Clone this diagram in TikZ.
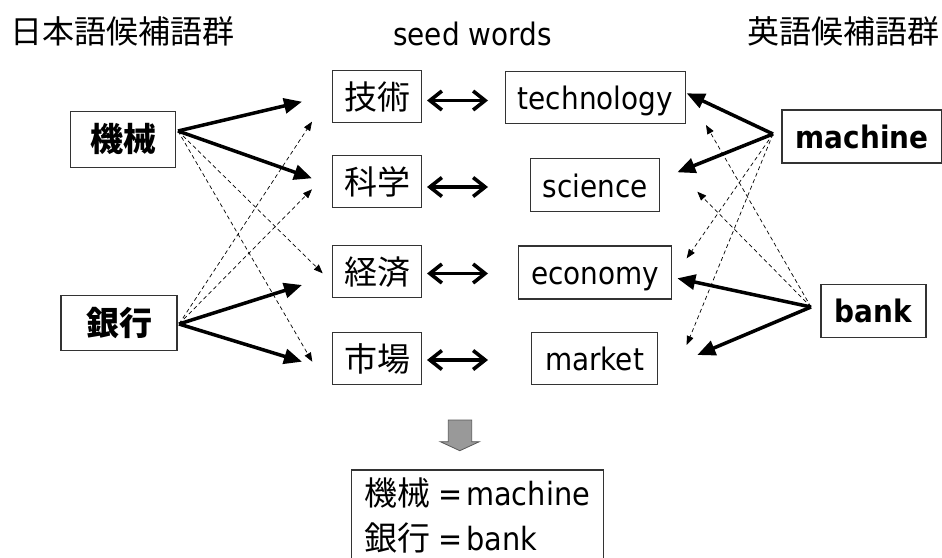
\documentclass[tikz,border=0pt]{standalone}
\usepackage{fontspec}
\setmainfont{DejaVu Sans Condensed}
\newfontfamily\jp{Noto Sans CJK JP}
\usetikzlibrary{arrows.meta}
\newcommand\enfont{\fontsize{31}{36}\selectfont}
\newcommand\jpfont{\jp\fontsize{33}{38}\selectfont}
\newcommand\resfont{\fontsize{33}{38}\selectfont}
\newcommand\resenfont{\fontsize{32}{38}\selectfont}
\newcommand\headfont{\fontsize{31}{36}\selectfont}
\newcommand\jpheadfont{\jp\fontsize{32}{36}\selectfont}
\begin{document}
\begin{tikzpicture}[x=1pt,y=-1pt,
  box/.style={draw=black!80, line width=1.1pt, inner sep=0pt, anchor=center},
  enbox/.style={box, text height=24pt, text depth=0pt, font=\enfont},
  jpbox/.style={box, font=\jpfont},
  strong/.style={line width=3.5pt, -{Triangle[length=18pt,width=15pt]}},
  weak/.style={line width=0.7pt, dash pattern=on 4pt off 3pt, -{Triangle[length=9pt,width=7pt]}},
  pair/.style={line width=3.6pt, {Straight Barb[length=12pt,width=19pt]}-{Straight Barb[length=12pt,width=19pt]}}]
\useasboundingbox (0,0) rectangle (942,557);

% column headings
\node[anchor=base west, inner sep=0pt] (hjp) at (10,43) {\jpheadfont 日本語候補語群};
\node[anchor=base, inner sep=0pt] (hseed) at (472.5,45) {\headfont seed words};
\node[anchor=base west, inner sep=0pt] (hen) at (747,43) {\jpheadfont 英語候補語群};

% Japanese candidates
\node[jpbox, minimum width=105pt, minimum height=56pt] (kikai) at (123,139.2) {\bfseries 機械};
\node[jpbox, minimum width=116pt, minimum height=55pt] (ginko) at (119,323) {\bfseries 銀行};

% seed words, Japanese side
\node[jpbox, minimum width=89pt, minimum height=52pt] (j1) at (377,96.5) {技術};
\node[jpbox, minimum width=89pt, minimum height=52pt] (j2) at (377,181.5) {科学};
\node[jpbox, minimum width=89pt, minimum height=52pt] (j3) at (377,271.7) {経済};
\node[jpbox, minimum width=89pt, minimum height=52pt] (j4) at (377,358.8) {市場};

% seed words, English side
\node[enbox, minimum width=180pt, minimum height=52pt] (e1) at (595.3,97.5) {technology};
\node[enbox, minimum width=129pt, minimum height=53pt] (e2) at (595.3,185.2) {science};
\node[enbox, minimum width=153pt, minimum height=53pt] (e3) at (595.3,272.5) {economy};
\node[enbox, minimum width=126pt, minimum height=52pt] (e4) at (594.5,358.5) {market};

% English candidates
\node[enbox, minimum width=160pt, minimum height=53pt] (mach) at (862,136.5) {\bfseries machine};
\node[enbox, minimum width=105pt, minimum height=53pt] (bank) at (873.5,310.8) {\bfseries bank};

% correspondence arrows between seed words
\foreach \i/\y in {1/100.5,2/187,3/273.5,4/360}{
  \coordinate (pl\i) at (427,\y);
  \coordinate (pr\i) at (488,\y);
  \draw[pair] (pl\i) -- (pr\i);
}

% fan points of the candidate words
\coordinate (kk) at (178,131);
\coordinate (gk) at (179,324);
\coordinate (mc) at (773,134);
\coordinate (bk) at (811,307);

% arrow ends next to the seed words
\coordinate (kk1) at (302,101.7);
\coordinate (kk2) at (312,178.3);
\coordinate (kk3) at (322.7,273.3);
\coordinate (kk4) at (312.3,361.7);
\coordinate (gk1) at (312,121.7);
\coordinate (gk2) at (312,189.3);
\coordinate (gk3) at (302,285);
\coordinate (gk4) at (302,361.7);
\coordinate (mc1) at (686.7,93.3);
\coordinate (mc2) at (677.3,172.3);
\coordinate (mc3) at (686.7,258.3);
\coordinate (mc4) at (686.7,345);
\coordinate (bk1) at (706,125);
\coordinate (bk2) at (697.3,191.7);
\coordinate (bk3) at (677.3,278.3);
\coordinate (bk4) at (697.3,355);

\draw[weak] (kk) -- (kk3);
\draw[weak] (kk) -- (kk4);
\draw[weak] (gk) -- (gk1);
\draw[weak] (gk) -- (gk2);
\draw[weak] (mc) -- (mc3);
\draw[weak] (mc) -- (mc4);
\draw[weak] (bk) -- (bk1);
\draw[weak] (bk) -- (bk2);

\draw[strong] (kk) -- (kk1);
\draw[strong] (kk) -- (kk2);
\draw[strong] (gk) -- (gk3);
\draw[strong] (gk) -- (gk4);
\draw[strong] (mc) -- (mc1);
\draw[strong] (mc) -- (mc2);
\draw[strong] (bk) -- (bk3);
\draw[strong] (bk) -- (bk4);

% block arrow down to the result
\draw[fill=black!40, draw=black!65, line width=0.8pt]
  (448.3,420) -- (471.7,420) -- (471.7,441.7) -- (479.3,441.7) -- (459.8,450.7)
  -- (440.3,441.7) -- (448.3,441.7) -- cycle;

% result (the box runs past the lower edge)
\draw[draw=black!80, line width=1.1pt] (351.7,470) rectangle (603.3,562);
\node[anchor=base west, inner sep=0pt] (r1) at (364,505) {\jp\resfont 機械\hspace{8pt}\rmfamily\resenfont=\hspace{4pt}machine};
\node[anchor=base west, inner sep=0pt] (r2) at (364,550) {\jp\resfont 銀行\hspace{8pt}\rmfamily\resenfont=\hspace{4pt}bank};
\end{tikzpicture}
\end{document}
